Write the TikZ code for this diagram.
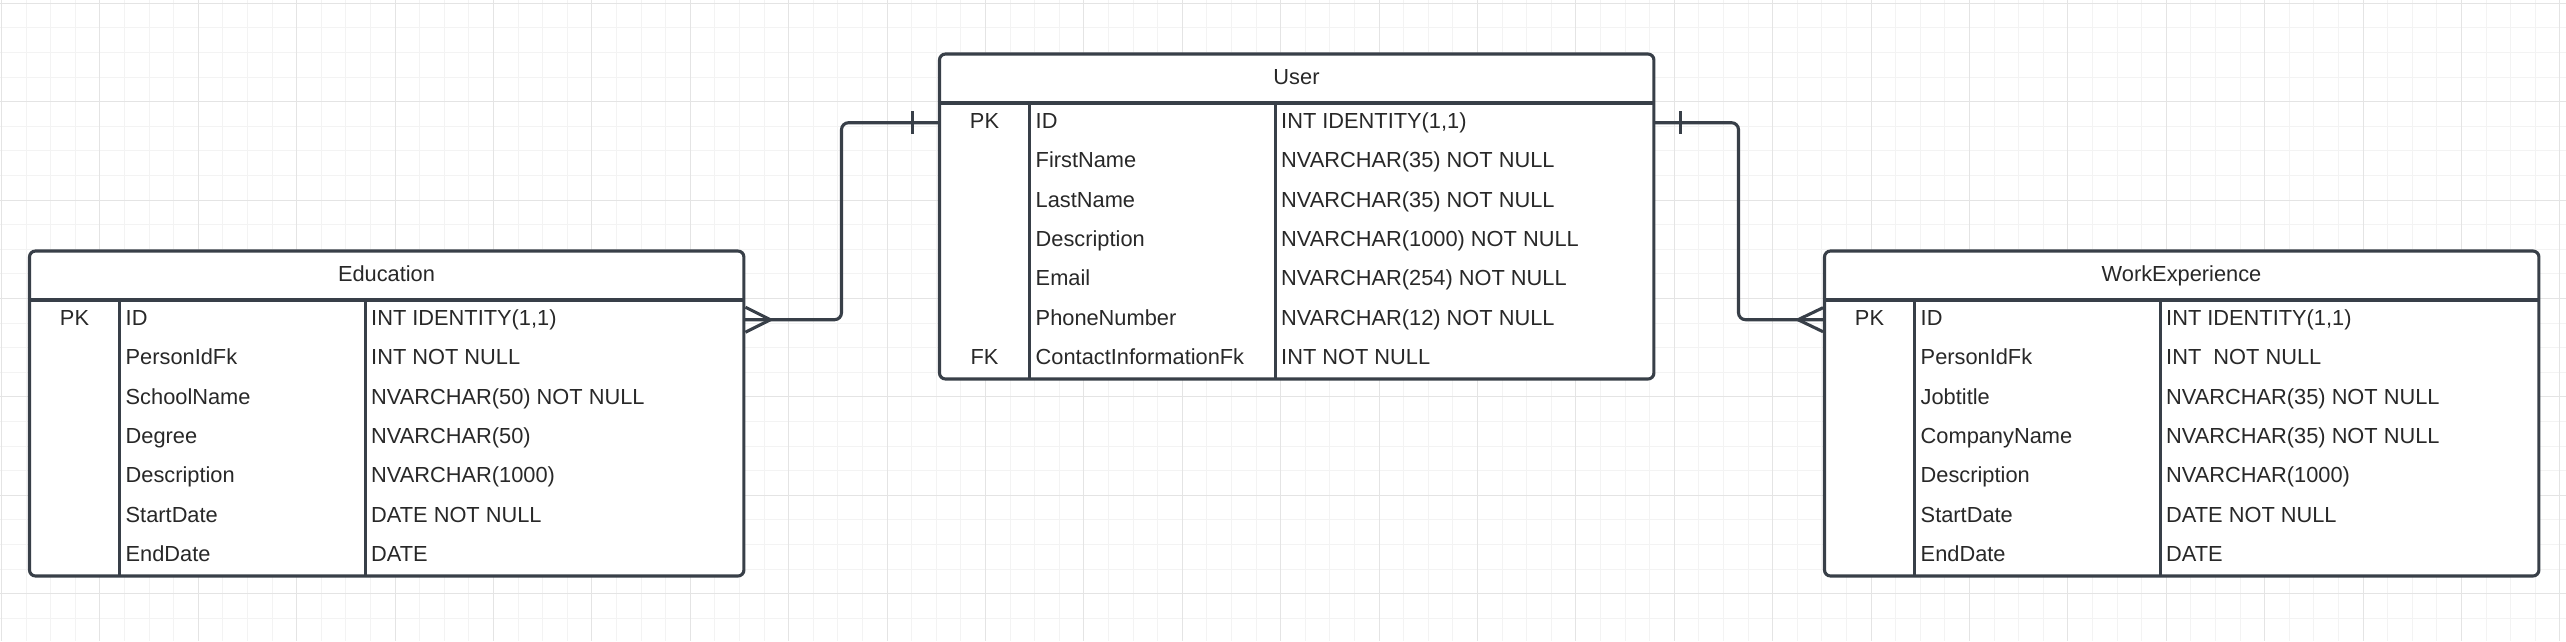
\documentclass[tikz,border=0pt]{standalone}
\usepackage{fontspec}
\setmainfont{Liberation Sans}
\definecolor{linec}{RGB}{56,63,72}
\definecolor{textc}{RGB}{40,40,40}
\definecolor{minorc}{RGB}{243,243,243}
\definecolor{majorc}{RGB}{228,228,228}
\tikzset{
  ln/.style={draw=linec, line width=0.031cm},
  tbl/.style={ln, fill=white, rounded corners=0.06cm, minimum width=7.14cm, minimum height=3.248cm, inner sep=0, outer sep=0, anchor=north west},
  cell/.style={inner sep=0, text=textc, font=\fontsize{6.2}{7}\selectfont, text height=4.4pt, text depth=1.2pt},
  conn/.style={ln, rounded corners=0.07cm},
  minorgrid/.style={draw=minorc, line width=0.01cm},
  majorgrid/.style={draw=majorc, line width=0.01cm}
}
\begin{document}
\begin{tikzpicture}[x=0.01cm,y=-0.01cm]
  \useasboundingbox[fill=white] (0,0) rectangle (2566,641);
  \clip (0,0) rectangle (2566,641);
  \foreach \i in {0,...,104} \draw[minorgrid] (1.5+24.6*\i,0) -- ++(0,641);
  \foreach \j in {0,...,25} \draw[minorgrid] (0,3.3+24.6*\j) -- ++(2566,0);
  \foreach \i in {0,...,26} \draw[majorgrid] (1.5+98.4*\i,0) -- ++(0,641);
  \foreach \j in {0,...,6} \draw[majorgrid] (0,3.3+98.4*\j) -- ++(2566,0);

  \node[tbl] (user) at (939.5,54) {};
  \node[cell] (user-title) at (939.5+357,54+24.5) {User};
  \draw[ln] ([yshift=-0.49cm]user.north west) -- ([yshift=-0.49cm]user.north east);
  \draw[ln] ([xshift=0.9cm,yshift=-0.49cm]user.north west) -- ([xshift=0.9cm]user.south west);
  \draw[ln] ([xshift=3.36cm,yshift=-0.49cm]user.north west) -- ([xshift=3.36cm]user.south west);
  \foreach \k/\f/\t in {0/ID/{INT IDENTITY(1,1)},1/FirstName/{NVARCHAR(35) NOT NULL},2/LastName/{NVARCHAR(35) NOT NULL},3/Description/{NVARCHAR(1000) NOT NULL},4/Email/{NVARCHAR(254) NOT NULL},5/PhoneNumber/{NVARCHAR(12) NOT NULL},6/ContactInformationFk/{INT NOT NULL}}{
    \node[cell, anchor=west] (user-f\k) at (939.5+95.5,54+68.7+39.4*\k) {\f};
    \node[cell, anchor=west] (user-t\k) at (939.5+341,54+68.7+39.4*\k) {\t};
  }
  \node[cell] (user-pk) at (939.5+45,54+68.7) {PK};
  \node[cell] (user-fk) at (939.5+45,54+68.7+39.4*6) {FK};

  \node[tbl] (edu) at (29.5,251) {};
  \node[cell] (edu-title) at (29.5+357,251+24.5) {Education};
  \draw[ln] ([yshift=-0.49cm]edu.north west) -- ([yshift=-0.49cm]edu.north east);
  \draw[ln] ([xshift=0.9cm,yshift=-0.49cm]edu.north west) -- ([xshift=0.9cm]edu.south west);
  \draw[ln] ([xshift=3.36cm,yshift=-0.49cm]edu.north west) -- ([xshift=3.36cm]edu.south west);
  \foreach \k/\f/\t in {0/ID/{INT IDENTITY(1,1)},1/PersonIdFk/{INT NOT NULL},2/SchoolName/{NVARCHAR(50) NOT NULL},3/Degree/{NVARCHAR(50)},4/Description/{NVARCHAR(1000)},5/StartDate/{DATE NOT NULL},6/EndDate/{DATE}}{
    \node[cell, anchor=west] (edu-f\k) at (29.5+95.5,251+68.7+39.4*\k) {\f};
    \node[cell, anchor=west] (edu-t\k) at (29.5+341,251+68.7+39.4*\k) {\t};
  }
  \node[cell] (edu-pk) at (29.5+45,251+68.7) {PK};

  \node[tbl] (work) at (1824.5,251) {};
  \node[cell] (work-title) at (1824.5+357,251+24.5) {WorkExperience};
  \draw[ln] ([yshift=-0.49cm]work.north west) -- ([yshift=-0.49cm]work.north east);
  \draw[ln] ([xshift=0.9cm,yshift=-0.49cm]work.north west) -- ([xshift=0.9cm]work.south west);
  \draw[ln] ([xshift=3.36cm,yshift=-0.49cm]work.north west) -- ([xshift=3.36cm]work.south west);
  \foreach \k/\f/\t in {0/ID/{INT IDENTITY(1,1)},1/PersonIdFk/{INT~ NOT NULL},2/Jobtitle/{NVARCHAR(35) NOT NULL},3/CompanyName/{NVARCHAR(35) NOT NULL},4/Description/{NVARCHAR(1000)},5/StartDate/{DATE NOT NULL},6/EndDate/{DATE}}{
    \node[cell, anchor=west] (work-f\k) at (1824.5+95.5,251+68.7+39.4*\k) {\f};
    \node[cell, anchor=west] (work-t\k) at (1824.5+341,251+68.7+39.4*\k) {\t};
  }
  \node[cell] (work-pk) at (1824.5+45,251+68.7) {PK};

  \coordinate (user-l) at (user.west |- user-f0);
  \coordinate (user-r) at (user.east |- user-f0);
  \coordinate (edu-r) at (edu.east |- edu-f0);
  \coordinate (work-l) at (work.west |- work-f0);
  \coordinate (lbend) at (841.5,220);
  \coordinate (rbend) at (1738.5,220);
  \draw[conn] (user-l) -| (lbend |- edu-r) -- (edu-r);
  \draw[conn] (user-r) -| (rbend |- work-l) -- (work-l);
  \draw[ln] ([shift={(-27,-11.7)}]user-l) -- ([shift={(-27,11.7)}]user-l);
  \draw[ln] ([shift={(27,-11.7)}]user-r) -- ([shift={(27,11.7)}]user-r);
  \draw[ln] ([shift={(1.5,-12.5)}]edu-r) -- ([shift={(26.5,0)}]edu-r) -- ([shift={(1.5,12.5)}]edu-r);
  \draw[ln] ([shift={(-1.5,-12)}]work-l) -- ([shift={(-26.5,0)}]work-l) -- ([shift={(-1.5,12)}]work-l);
\end{tikzpicture}
\end{document}
